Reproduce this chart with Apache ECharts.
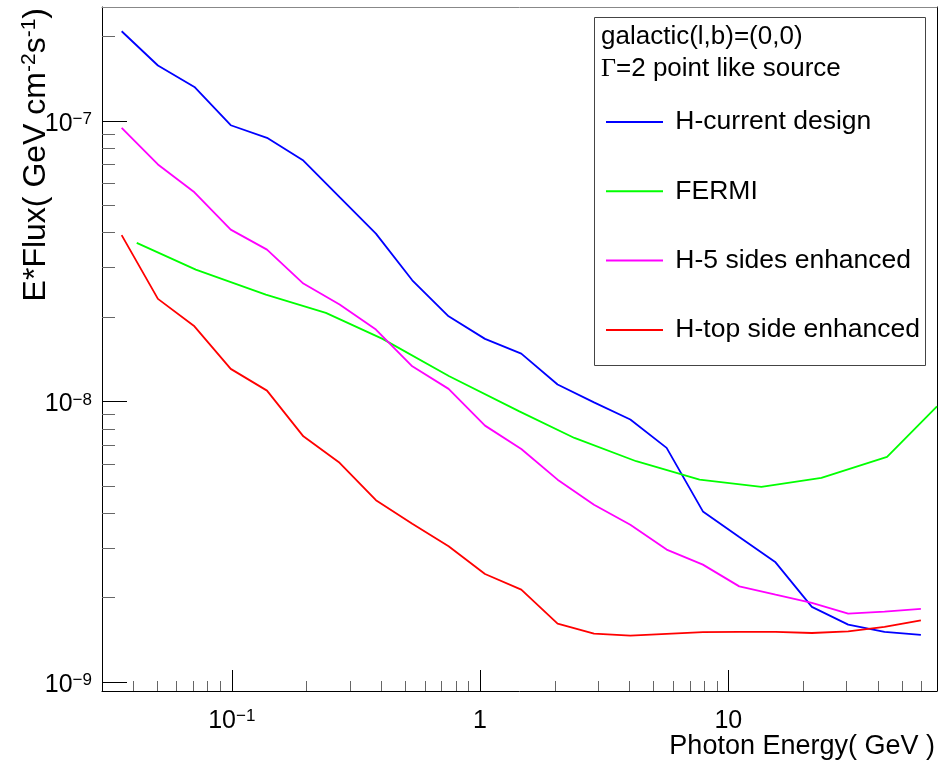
<!DOCTYPE html>
<html><head><meta charset="utf-8">
<script src="https://cdn.jsdelivr.net/npm/echarts@6/dist/echarts.min.js"></script>
<style>html,body{margin:0;padding:0;background:#fff}#c{width:946px;height:764px}</style>
</head><body><div id="c"></div>
<script>
// ---- data ----
const energyH = [0.0360,0.0504,0.0707,0.0990,0.1386,0.1942,0.2718,0.3807,0.5333,0.7470,1.047,1.466,2.053,2.877,4.030,5.644,7.900,11.07,15.50,21.71,30.41,42.60,59.68];
const hCurrent = [2.089e-7,1.577e-7,1.323e-7,9.66e-8,8.71e-8,7.23e-8,5.35e-8,3.97e-8,2.706e-8,2.014e-8,1.673e-8,1.483e-8,1.150e-8,9.94e-9,8.63e-9,6.84e-9,4.06e-9,3.29e-9,2.674e-9,1.854e-9,1.603e-9,1.510e-9,1.473e-9];
const h5Sides = [9.46e-8,7.00e-8,5.57e-8,4.10e-8,3.48e-8,2.634e-8,2.217e-8,1.806e-8,1.336e-8,1.110e-8,8.21e-9,6.78e-9,5.27e-9,4.29e-9,3.64e-9,2.968e-9,2.624e-9,2.195e-9,2.050e-9,1.916e-9,1.754e-9,1.783e-9,1.824e-9];
const hTop = [3.92e-8,2.323e-8,1.855e-8,1.308e-8,1.094e-8,7.52e-9,6.05e-9,4.45e-9,3.67e-9,3.05e-9,2.430e-9,2.137e-9,1.616e-9,1.489e-9,1.465e-9,1.486e-9,1.508e-9,1.510e-9,1.510e-9,1.497e-9,1.518e-9,1.573e-9,1.661e-9];
const energyFermi = [0.0414,0.0716,0.1371,0.2393,0.4049,0.7518,1.440,2.400,4.256,7.661,13.59,23.71,43.61,69.3];
const fermi = [3.68e-8,2.955e-8,2.406e-8,2.071e-8,1.673e-8,1.231e-8,9.23e-9,7.42e-9,6.13e-9,5.27e-9,4.97e-9,5.35e-9,6.35e-9,9.62e-9];
const seriesNames = ['H-current design','FERMI','H-5 sides enhanced','H-top side enhanced'];
const xMajorTicks = [0.1,1,10];
const xMinorTicks = [0.04,0.05,0.06,0.07,0.08,0.09,0.2,0.3,0.4,0.5,0.6,0.7,0.8,0.9,2,3,4,5,6,7,8,9,20,30,40,50,60];
const yMajorTicks = [1e-9,1e-8,1e-7];
const yMinorTicks = [2e-9,3e-9,4e-9,5e-9,6e-9,7e-9,8e-9,9e-9,2e-8,3e-8,4e-8,5e-8,6e-8,7e-8,8e-8,9e-8,2e-7];
const X_MIN = 0.03, X_MAX = 69.3, Y_MIN = 9.3e-10, Y_MAX = 2.549e-7;

const FF = '"Liberation Sans", Arial, Helvetica, sans-serif';
function powLabel(v){
  const p = Math.round(Math.log10(v));
  if (p === 0) return '{b|1}';
  if (p === 1) return '{b|10}';
  return '{b|10}{e|' + (p < 0 ? '\u2212' : '') + Math.abs(p) + '}';
}
const labelRich = {
  b:{fontSize:25, lineHeight:26, fontFamily:FF, color:'#000'},
  e:{fontSize:17, lineHeight:16, verticalAlign:'top', fontFamily:FF, color:'#000'}
};
function logAxis(extra){
  return Object.assign({type:'log', logBase:10, splitLine:{show:false}, minorTick:{show:false}, minorSplitLine:{show:false}}, extra);
}
const chart = echarts.init(document.getElementById('c'), null, {renderer:'canvas'});
const mk = (name, xs, ys, color) => ({
  name, type:'line', symbol:'none', showSymbol:false, clip:true, animation:false,
  xAxisIndex:0, yAxisIndex:0,
  lineStyle:{color, width:1.8}, itemStyle:{color},
  data: xs.map((x,i)=>[x, ys[i]])
});
chart.setOption({
  backgroundColor:'#fff',
  animation:false,
  grid:{left:102, right:9, top:7, bottom:73, containLabel:false, outerBoundsMode:'none'},
  xAxis:[
    logAxis({min:X_MIN, max:X_MAX, position:'bottom',
      axisLine:{show:true, lineStyle:{color:'#000', width:1}},
      axisTick:{show:true, inside:true, length:21, customValues:xMajorTicks, lineStyle:{color:'#000', width:1}},
      axisLabel:{show:true, customValues:xMajorTicks, margin:17, formatter:powLabel, rich:labelRich}}),
    logAxis({min:X_MIN, max:X_MAX, position:'bottom',
      axisLine:{show:false},
      axisTick:{show:true, inside:true, length:10, customValues:xMinorTicks, lineStyle:{color:'#666', width:1}},
      axisLabel:{show:false}}),
    logAxis({min:X_MIN, max:X_MAX, position:'top',
      axisLine:{show:true, lineStyle:{color:'#888', width:1}},
      axisTick:{show:false}, axisLabel:{show:false}})
  ],
  yAxis:[
    logAxis({min:Y_MIN, max:Y_MAX, position:'left',
      axisLine:{show:true, lineStyle:{color:'#000', width:1}},
      axisTick:{show:true, inside:true, length:25, customValues:yMajorTicks, lineStyle:{color:'#000', width:1}},
      axisLabel:{show:true, customValues:yMajorTicks, margin:10, padding:[6,0,0,0], formatter:powLabel, rich:labelRich}}),
    logAxis({min:Y_MIN, max:Y_MAX, position:'left',
      axisLine:{show:false},
      axisTick:{show:true, inside:true, length:13, customValues:yMinorTicks, lineStyle:{color:'#666', width:1}},
      axisLabel:{show:false}}),
    logAxis({min:Y_MIN, max:Y_MAX, position:'right',
      axisLine:{show:true, lineStyle:{color:'#000', width:1}},
      axisTick:{show:false}, axisLabel:{show:false}})
  ],
  legend:{
    data:seriesNames, orient:'vertical', left:606, top:107, padding:0,
    itemWidth:57, itemHeight:2, itemGap:39.3, icon:'rect', selectedMode:false,
    formatter: n => ' ' + n,
    textStyle:{fontSize:26.5, lineHeight:30, color:'#000', fontFamily:FF}
  },
  graphic:[
    {type:'rect', z:1, shape:{x:594.5, y:17.5, width:331, height:348}, style:{fill:'#fff', stroke:'#444', lineWidth:1}},
    {type:'text', z:2, x:601, y:37, style:{text:'galactic(l,b)=(0,0)', align:'left', verticalAlign:'middle', fontSize:26, fontFamily:FF, fill:'#000'}},
    {type:'text', z:2, x:601, y:69, style:{text:'{g|\u0393}{t|=2 point like source}', align:'left', verticalAlign:'middle',
      rich:{g:{fontSize:26, fontFamily:'"Liberation Serif","DejaVu Serif",serif', fill:'#000'}, t:{fontSize:26, fontFamily:FF, fill:'#000'}}}},
    {type:'text', z:2, x:935, y:747, style:{text:'Photon Energy( GeV )', align:'right', verticalAlign:'middle', fontSize:27, fontFamily:FF, fill:'#000'}},
    {type:'text', z:2, x:36, y:8, rotation:Math.PI/2, style:{text:'{n|E*Flux( GeV cm}{s|-2}{n|s}{s|-1}{n|)}', align:'right', verticalAlign:'middle',
      rich:{n:{fontSize:32, lineHeight:35, fontFamily:FF, fill:'#000'}, s:{fontSize:21, lineHeight:20, verticalAlign:'top', fontFamily:FF, fill:'#000'}}}}
  ],
  series:[
    mk(seriesNames[0], energyH, hCurrent, '#0000ff'),
    mk(seriesNames[1], energyFermi, fermi, '#00ff00'),
    mk(seriesNames[2], energyH, h5Sides, '#ff00ff'),
    mk(seriesNames[3], energyH, hTop, '#ff0000')
  ]
});
</script></body></html>
